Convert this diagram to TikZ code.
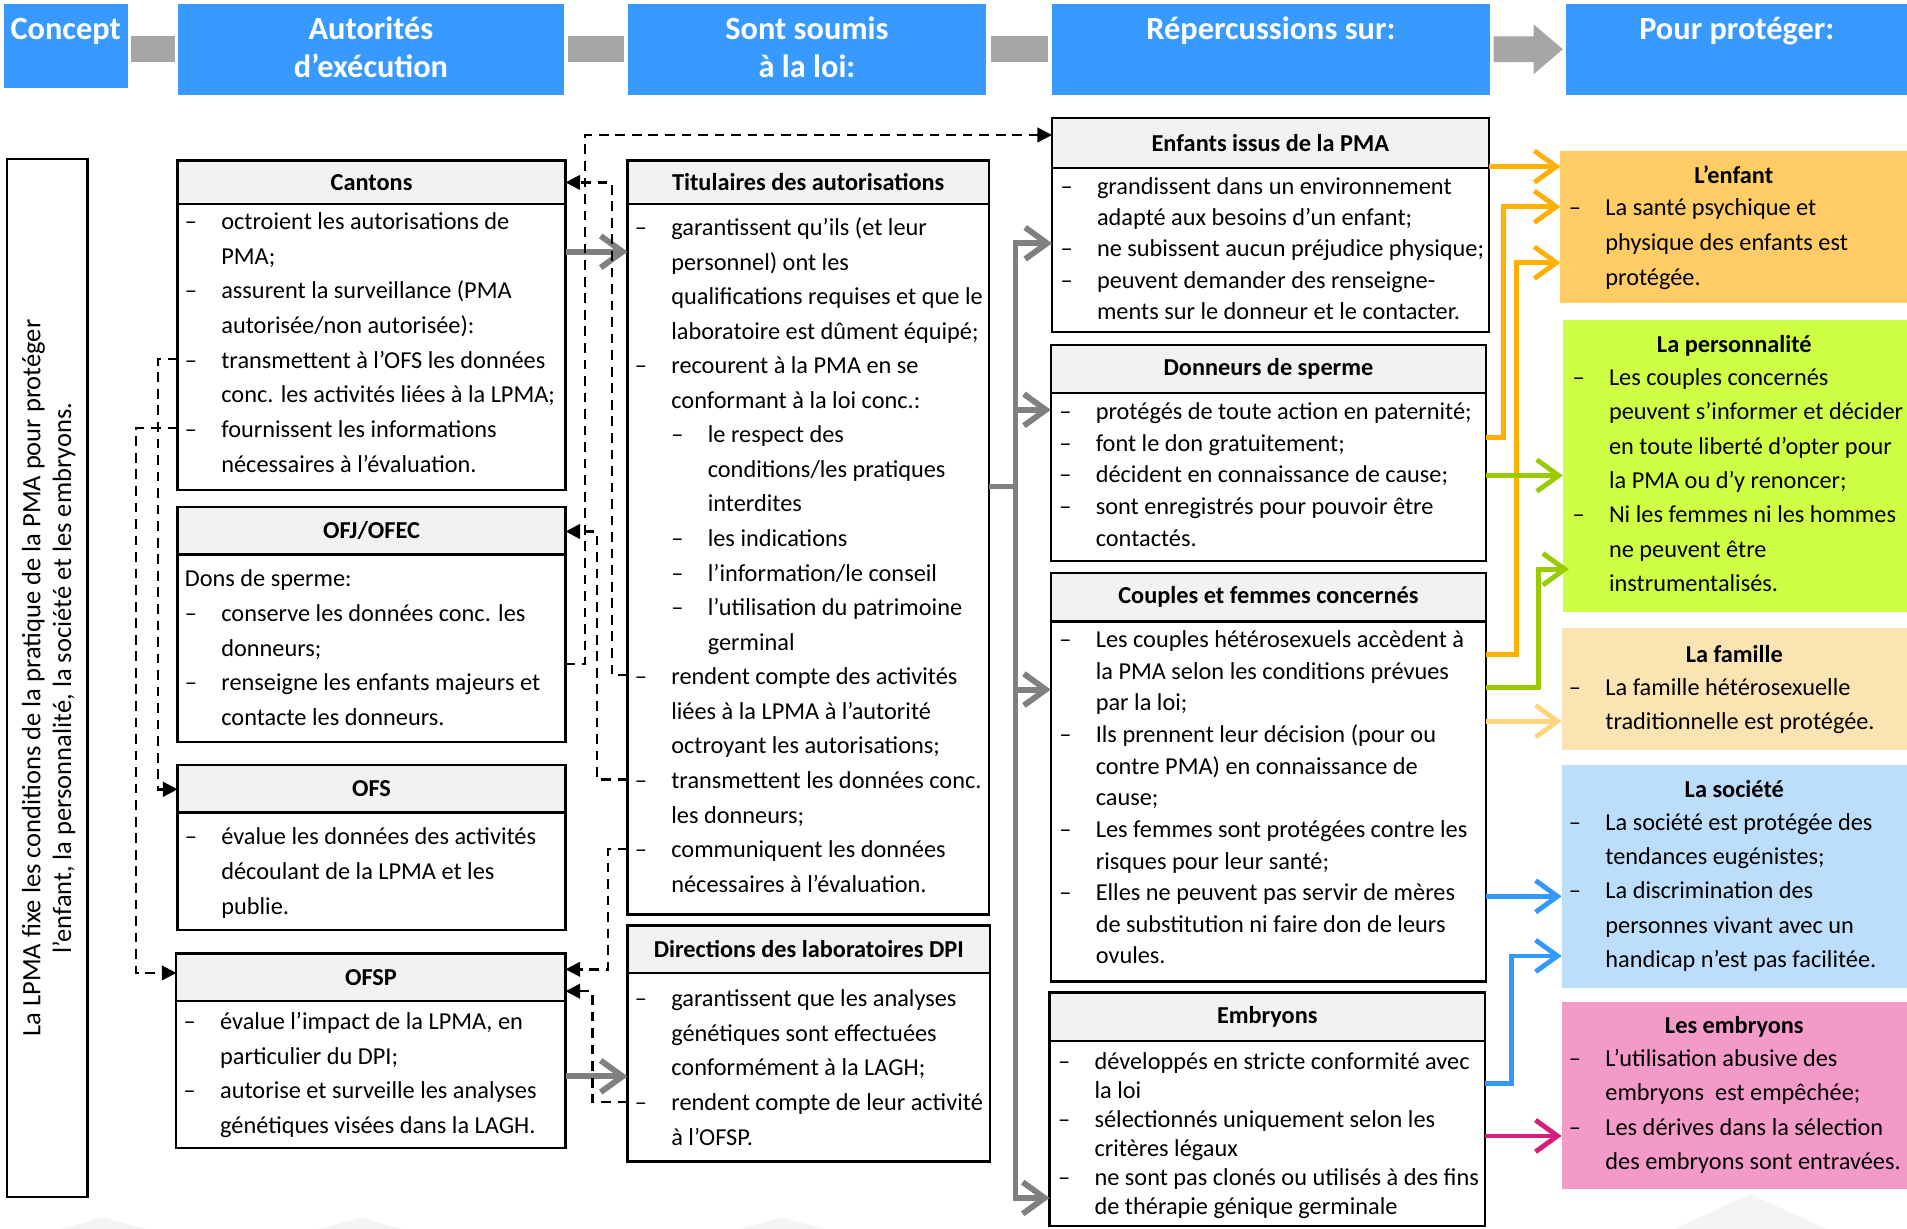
\documentclass[tikz,border=0pt]{standalone}
\usepackage{fontspec}
\setmainfont{Carlito}
\usetikzlibrary{arrows.meta}
\definecolor{hdrblue}{RGB}{56,153,255}
\definecolor{conngray}{RGB}{166,166,166}
\definecolor{arrgray}{RGB}{128,128,128}
\definecolor{hdrfill}{RGB}{242,242,242}
\definecolor{cOrange}{RGB}{255,176,0}
\definecolor{cGreen}{RGB}{153,204,0}
\definecolor{cLtYel}{RGB}{255,214,128}
\definecolor{cBlue}{RGB}{51,153,255}
\definecolor{cMag}{RGB}{214,28,125}
\definecolor{fEnfant}{RGB}{255,204,102}
\definecolor{fPers}{RGB}{207,255,68}
\definecolor{fFam}{RGB}{252,228,178}
\definecolor{fSoc}{RGB}{189,222,251}
\definecolor{fEmb}{RGB}{244,154,200}
\definecolor{faint}{RGB}{244,244,244}
\newlength\dw \setlength\dw{15pt}
\newcommand\Bul{\makebox[\dw][l]{–}}
\newcommand\Cnt{\hspace*{\dw}}
\newcommand\SBul{\hspace*{\dw}\makebox[\dw][l]{–}}
\newcommand\SCnt{\hspace*{2\dw}}
\newcommand\lst[2]{\fontsize{10}{#1}\selectfont\begin{tabular}{@{}l@{}}#2\end{tabular}}
\newcommand\tl[1]{\fontsize{13.3}{15.5pt}\selectfont\bfseries\begin{tabular}{@{}c@{}}#1\end{tabular}}
\newcommand\mkbox[6]{\node[#1, minimum width={(#5-#3)*0.5pt}, minimum height={(#6-#4)*0.5pt}] (#2) at (#3,#4) {};}
\newcommand\mkhdr[6]{\node[hdr, minimum width={(#4-#2)*0.5pt}, minimum height={(#5-#3)*0.5pt}] (#1) at (#2,#3) {#6};}
\tikzset{
 bx/.style={draw=black, line width=0.9pt, anchor=north west, inner sep=0pt, outer sep=0pt},
 hdr/.style={bx, fill=hdrfill, font=\bfseries\fontsize{10}{12}\selectfont},
 bdy/.style={bx, fill=white},
 cbox/.style={anchor=north west, inner sep=0pt, outer sep=0pt},
 topb/.style={anchor=north west, inner sep=0pt, outer sep=0pt, fill=hdrblue},
 toplbl/.style={anchor=north, inner sep=0pt, outer sep=0pt, text=white},
 txt/.style={anchor=north west, inner sep=0pt, outer sep=0pt},
 ttl/.style={anchor=base, inner sep=0pt, font=\bfseries\fontsize{10}{12}\selectfont},
 garr/.style={draw=arrgray, line width=2.4pt, -{Straight Barb[length=9pt,width=13pt]}},
 gln/.style={draw=arrgray, line width=2.4pt},
 carr/.style={line width=2pt, -{Straight Barb[length=9pt,width=13pt]}},
 dsh/.style={draw=black, line width=1pt, dash pattern=on 4pt off 2.8pt, -{Triangle[length=6pt,width=6pt]}},
}
\begin{document}
\begin{tikzpicture}[x=0.5pt,y=-0.5pt]
\path[fill=white] (0,0) rectangle (1568,1010.5);
\useasboundingbox (0,0) rectangle (1568,1010.5);
% faint background shapes
\fill[faint] (50,1010.5) -- (85,1001) -- (120,1010.5) -- cycle;
\fill[faint] (262,1010.5) -- (297,1001) -- (330,1010.5) -- cycle;
\fill[faint] (608,1010.5) -- (643,1001) -- (678,1010.5) -- cycle;
\fill[faint] (1376,1010.5) -- (1439,982) -- (1502,1010.5) -- cycle;

% ===== top header bar =====
\mkbox{topb}{hConcept}{3}{3}{105}{72}
\mkbox{topb}{hAut}{146}{3}{464}{78}
\mkbox{topb}{hSoum}{516}{3}{811}{78}
\mkbox{topb}{hRep}{865}{3}{1225}{78}
\mkbox{topb}{hProt}{1288}{3}{1568}{78}
\node[toplbl] (lConcept) at (54,11) {\tl{Concept}};
\node[toplbl] (lAut) at (305,11) {\tl{Autorités\\d’exécution}};
\node[toplbl] (lSoum) at (663.5,11) {\tl{Sont soumis\\à la loi:}};
\node[toplbl] (lRep) at (1045,11) {\tl{Répercussions sur:}};
\node[toplbl] (lProt) at (1428,11) {\tl{Pour protéger:}};
\fill[conngray] ([xshift=1.5pt]hConcept.east |- 0,30) rectangle ([xshift=-1pt]hAut.west |- 0,51);
\fill[conngray] ([xshift=1.5pt]hAut.east |- 0,30) rectangle ([xshift=-1.5pt]hSoum.west |- 0,51);
\fill[conngray] ([xshift=2pt]hSoum.east |- 0,30) rectangle ([xshift=-1.5pt]hRep.west |- 0,51);
\fill[conngray] ([xshift=1.5pt]hRep.east |- 0,30) -- (1261,30) -- (1261,20) -- ([xshift=-1.5pt]hProt.west |- 0,40.5) -- (1261,61) -- (1261,51) -- ([xshift=1.5pt]hRep.east |- 0,51) -- cycle;

% ===== concept box =====
\mkbox{bdy}{concept}{6}{131}{72}{984}
\node[rotate=90, inner sep=0pt, align=center, font=\fontsize{10.9}{12.6pt}\selectfont] (conceptT) at (40,557.5) {La LPMA fixe les conditions de la pratique de la PMA pour protéger\\l’enfant, la personnalité, la société et les embryons.};

% ===== autorités column =====
\mkbox{bdy}{cantons}{146}{168}{465}{403}
\mkhdr{cantonsH}{146}{132}{465}{168}{Cantons}
\node[txt] (cantonsT) at (152,168.65) {\lst{14.25pt}{\Bul octroient les autorisations de\\ \Cnt PMA;\\ \Bul assurent la surveillance (PMA\\ \Cnt autorisée/non autorisée):\\ \Bul transmettent à l’OFS les données\\ \Cnt conc. les activités liées à la LPMA;\\ \Bul fournissent les informations\\ \Cnt nécessaires à l’évaluation.}};

\mkbox{bdy}{ofj}{146}{456}{465}{610}
\mkhdr{ofjH}{146}{417}{465}{456}{OFJ/OFEC}
\node[txt] (ofjT) at (152,462.65) {\lst{14.25pt}{Dons de sperme:\\ \Bul conserve les données conc. les\\ \Cnt donneurs;\\ \Bul renseigne les enfants majeurs et\\ \Cnt contacte les donneurs.}};

\mkbox{bdy}{ofs}{146}{668}{465}{765}
\mkhdr{ofsH}{146}{629}{465}{668}{OFS}
\node[txt] (ofsT) at (152,674.65) {\lst{14.25pt}{\Bul évalue les données des activités\\ \Cnt découlant de la LPMA et les\\ \Cnt publie.}};

\mkbox{bdy}{ofsp}{145}{823}{465}{944}
\mkhdr{ofspH}{145}{784}{465}{823}{OFSP}
\node[txt] (ofspT) at (151,826.65) {\lst{14.25pt}{\Bul évalue l’impact de la LPMA, en\\ \Cnt particulier du DPI;\\ \Bul autorise et surveille les analyses\\ \Cnt génétiques visées dans la LAGH.}};

% ===== soumis column =====
\mkbox{bdy}{titul}{516}{168}{813}{752}
\mkhdr{titulH}{516}{132}{813}{168}{Titulaires des autorisations}
\node[txt] (titulT) at (522,173.7) {\lst{14.21pt}{\Bul garantissent qu’ils (et leur\\ \Cnt personnel) ont les\\ \Cnt qualifications requises et que le\\ \Cnt laboratoire est dûment équipé;\\ \Bul recourent à la PMA en se\\ \Cnt conformant à la loi conc.:\\ \SBul le respect des\\ \SCnt conditions/les pratiques\\ \SCnt interdites\\ \SBul les indications\\ \SBul l’information/le conseil\\ \SBul l’utilisation du patrimoine\\ \SCnt germinal\\ \Bul rendent compte des activités\\ \Cnt liées à la LPMA à l’autorité\\ \Cnt octroyant les autorisations;\\ \Bul transmettent les données conc.\\ \Cnt les donneurs;\\ \Bul communiquent les données\\ \Cnt nécessaires à l’évaluation.}};

\mkbox{bdy}{dir}{516}{800}{814}{955}
\mkhdr{dirH}{516}{761}{814}{800}{Directions des laboratoires DPI}
\node[txt] (dirT) at (522,807.65) {\lst{14.25pt}{\Bul garantissent que les analyses\\ \Cnt génétiques sont effectuées\\ \Cnt conformément à la LAGH;\\ \Bul rendent compte de leur activité\\ \Cnt à l’OFSP.}};

% ===== répercussions column =====
\mkbox{bdy}{enfants}{865}{138}{1224}{273}
\mkhdr{enfantsH}{865}{97}{1224}{138}{Enfants issus de la PMA}
\node[txt] (enfantsT) at (872,141.6) {\lst{12.875pt}{\Bul grandissent dans un environnement\\ \Cnt adapté aux besoins d’un enfant;\\ \Bul ne subissent aucun préjudice physique;\\ \Bul peuvent demander des renseigne-\\ \Cnt ments sur le donneur et le contacter.}};

\mkbox{bdy}{donneurs}{864}{323}{1222}{461}
\mkhdr{donneursH}{864}{284}{1222}{323}{Donneurs de sperme}
\node[txt] (donneursT) at (871,326.2) {\lst{13.125pt}{\Bul protégés de toute action en paternité;\\ \Bul font le don gratuitement;\\ \Bul décident en connaissance de cause;\\ \Bul sont enregistrés pour pouvoir être\\ \Cnt contactés.}};

\mkbox{bdy}{couples}{864}{511}{1222}{807}
\mkhdr{couplesH}{864}{471}{1222}{511}{Couples et femmes concernés}
\node[txt] (couplesT) at (871,514.4) {\lst{13pt}{\Bul Les couples hétérosexuels accèdent à\\ \Cnt la PMA selon les conditions prévues\\ \Cnt par la loi;\\ \Bul Ils prennent leur décision (pour ou\\ \Cnt contre PMA) en connaissance de\\ \Cnt cause;\\ \Bul Les femmes sont protégées contre les\\ \Cnt risques pour leur santé;\\ \Bul Elles ne peuvent pas servir de mères\\ \Cnt de substitution ni faire don de leurs\\ \Cnt ovules.}};

\mkbox{bdy}{embr}{863}{856}{1221}{1008}
\mkhdr{embrH}{863}{816}{1221}{856}{Embryons}
\node[txt] (embrT) at (870,862.9) {\lst{11.9pt}{\Bul développés en stricte conformité avec\\ \Cnt la loi\\ \Bul sélectionnés uniquement selon les\\ \Cnt critères légaux\\ \Bul ne sont pas clonés ou utilisés à des fins\\ \Cnt de thérapie génique germinale}};

% ===== protéger column =====
\mkbox{cbox,fill=fEnfant}{lenfant}{1283}{124}{1568}{249}
\node[ttl] (lenfantH) at (1425.5,150.6) {L’enfant};
\node[txt] (lenfantT) at (1290,157.65) {\lst{14.25pt}{\Bul La santé psychique et\\ \Cnt physique des enfants est\\ \Cnt protégée.}};

\mkbox{cbox,fill=fPers}{pers}{1285}{263}{1568}{503}
\node[ttl] (persH) at (1426,289.6) {La personnalité};
\node[txt] (persT) at (1293,296.8) {\lst{14.17pt}{\Bul Les couples concernés\\ \Cnt peuvent s’informer et décider\\ \Cnt en toute liberté d’opter pour\\ \Cnt la PMA ou d’y renoncer;\\ \Bul Ni les femmes ni les hommes\\ \Cnt ne peuvent être\\ \Cnt instrumentalisés.}};

\mkbox{cbox,fill=fFam}{famille}{1284}{516}{1568}{617}
\node[ttl] (familleH) at (1426,544.6) {La famille};
\node[txt] (familleT) at (1290,552) {\lst{14pt}{\Bul La famille hétérosexuelle\\ \Cnt traditionnelle est protégée.}};

\mkbox{cbox,fill=fSoc}{societe}{1284}{629}{1568}{812}
\node[ttl] (societeH) at (1426,655.6) {La société};
\node[txt] (societeT) at (1290,662.8) {\lst{14.125pt}{\Bul La société est protégée des\\ \Cnt tendances eugénistes;\\ \Bul La discrimination des\\ \Cnt personnes vivant avec un\\ \Cnt handicap n’est pas facilitée.}};

\mkbox{cbox,fill=fEmb}{lesemb}{1284}{824}{1568}{978}
\node[ttl] (lesembH) at (1426,849.6) {Les embryons};
\node[txt] (lesembT) at (1290,856.8) {\lst{14.17pt}{\Bul L’utilisation abusive des\\ \Cnt embryons\ \ est empêchée;\\ \Bul Les dérives dans la sélection\\ \Cnt des embryons sont entravées.}};

% ===== gray arrows =====
\draw[garr] (cantons.east |- 0,207) -- (titul.west |- 0,207);
\draw[garr] (ofsp.east |- 0,885) -- (dir.west |- 0,885);
\coordinate (fan) at (835,400);
\draw[gln] (titul.east |- fan) -- (fan);
\draw[garr] (fan) |- (enfants.west |- 0,200);
\draw[garr] (fan) |- (donneurs.west |- 0,337);
\draw[garr] (fan) |- (couples.west |- 0,567);
\draw[garr] (fan) |- (embr.west |- 0,985);

% ===== dashed connectors =====
\draw[dsh] (ofj.east |- 0,546) -| (481,111) -- (enfantsH.west |- 0,111);
\draw[dsh] (titul.west |- 0,555) -| (503,150) -- (cantonsH.east |- 0,150);
\draw[dsh] (titul.west |- 0,641) -| (491,437) -- (ofjH.east |- 0,437);
\draw[dsh] (titul.west |- 0,698) -| (500,797) -- (ofspH.east |- 0,797);
\draw[dsh] (dir.west |- 0,906) -| (487,815) -- (ofspH.east |- 0,815);
\draw[dsh] (cantons.west |- 0,295) -| (130,649) -- (ofsH.west |- 0,649);
\draw[dsh] (cantons.west |- 0,352) -| (112,800) -- (ofspH.west |- 0,800);

% ===== coloured arrows =====
\draw[carr, cOrange] (enfants.east |- 0,137) -- (lenfant.west |- 0,137);
\draw[carr, cOrange] (donneurs.east |- 0,360) -| (1236,170) -- (lenfant.west |- 0,170);
\draw[carr, cOrange] (couples.east |- 0,538) -| (1247,216) -- (lenfant.west |- 0,216);
\draw[carr, cGreen] (donneurs.east |- 0,391) -- (pers.west |- 0,391);
\draw[carr, cGreen] (couples.east |- 0,565) -| (1265,468) -- ([xshift=2.5pt]pers.west |- 0,468);
\draw[carr, cLtYel] (couples.east |- 0,593) -- (famille.west |- 0,593);
\draw[carr, cBlue] (couples.east |- 0,737) -- (societe.west |- 0,737);
\draw[carr, cBlue] (embr.east |- 0,891) -| (1243,786) -- (societe.west |- 0,786);
\draw[carr, cMag] (embr.east |- 0,934) -- (lesemb.west |- 0,934);
\end{tikzpicture}
\end{document}
